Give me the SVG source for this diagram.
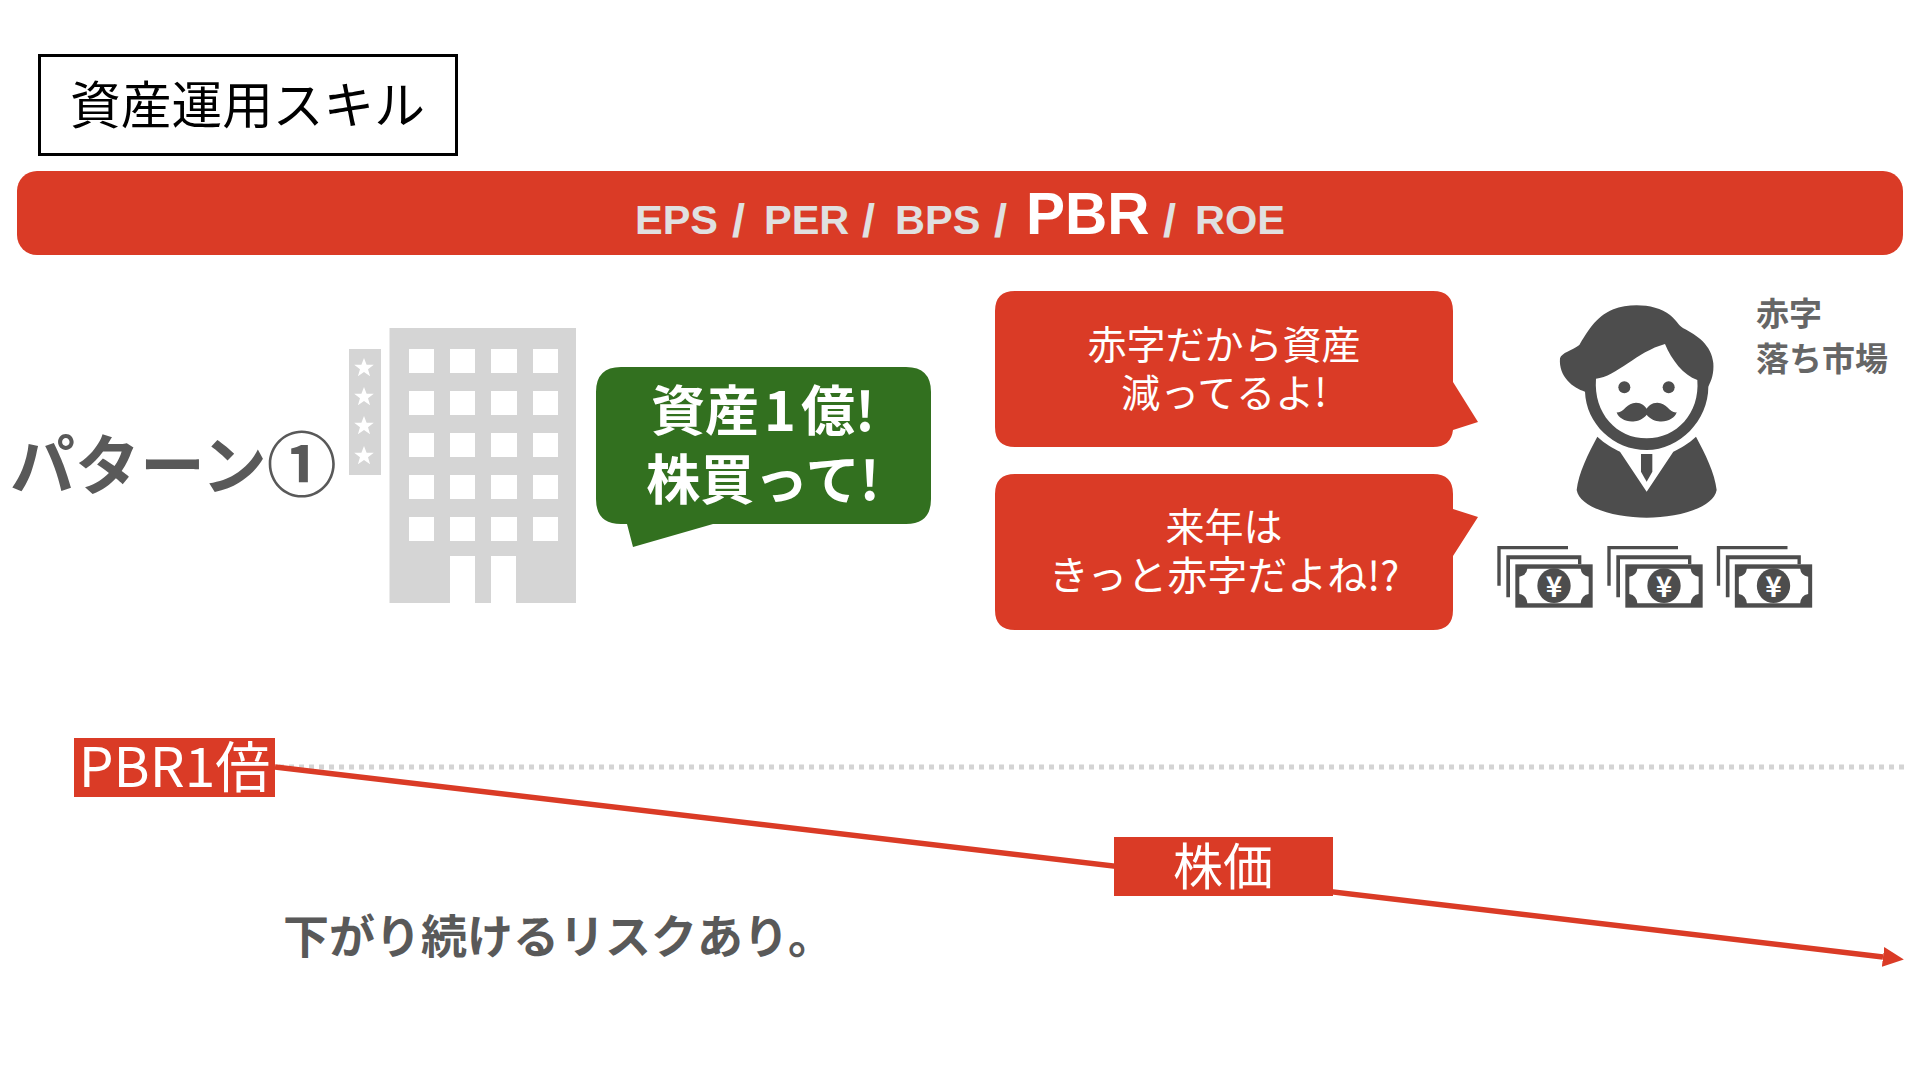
<svg xmlns="http://www.w3.org/2000/svg" xmlns:xlink="http://www.w3.org/1999/xlink" width="1920" height="1080" viewBox="0 0 1920 1080">
<style>
text{font-family:"Noto Sans CJK JP","Liberation Sans",sans-serif}
.c{text-anchor:middle}
.w{fill:#fff}
.b{font-weight:700}
.g{fill:#595959}
.r{fill:#da3b26}
.d{fill:#4d4d4d}
.bar{font-family:"Liberation Sans","Noto Sans CJK JP",sans-serif;font-weight:700}
.s{font-size:47px}
</style>
<defs>
<marker id="ah" markerUnits="userSpaceOnUse" markerWidth="22" markerHeight="22" refX="0" refY="11" orient="auto" viewBox="0 0 22 22"><path d="M0 1L21 11L0 21Z" fill="#da3b26"/></marker>
<polygon id="star" points="0,-10 2.6,-3.2 9.8,-3.2 4,1.2 6.1,8.2 0,4 -6.1,8.2 -4,1.2 -9.8,-3.2 -2.6,-3.2" fill="#fff"/>
<g id="money">
<path class="d" d="M52 798H264V808H62V917H52Z"/>
<path class="d" d="M79 826H304V853H294V838H90V952H79Z"/>
<rect class="d" x="106" y="853" width="232" height="130"/>
<path fill="#fff" d="M142 866H302Q304 886 326 890V942Q304 946 302 970H142Q140 946 118 942V890Q140 886 142 866Z"/>
<ellipse class="d" cx="222" cy="917" rx="50" ry="52"/>
</g>
</defs>
<rect width="1920" height="1080" fill="#fff"/>
<g id="connectors">
<line x1="279" y1="767" x2="1904" y2="767" stroke="#d4d4d4" stroke-width="5" stroke-dasharray="5 5"/>
<line x1="275" y1="767" x2="1883" y2="957" stroke="#da3b26" stroke-width="5.500" marker-end="url(#ah)"/>
</g>
<g id="title">
<rect x="39.500" y="55.500" width="417" height="99" fill="#fff" stroke="#000" stroke-width="3"/>
<text class="c" x="247.500" y="124" font-size="50.700">資産運用スキル</text>
</g>
<g id="bar">
<rect class="r" x="17" y="171" width="1886" height="84" rx="20"/>
<text class="bar" y="234" font-size="41.500" fill="#e0e0e0"><tspan x="635">EPS</tspan><tspan class="s" x="732" y="237">/</tspan><tspan x="764" y="234">PER</tspan><tspan class="s" x="862" y="237">/</tspan><tspan x="895" y="234">BPS</tspan><tspan class="s" x="994" y="237">/</tspan><tspan x="1026" y="234" font-size="58.500" fill="#fff">PBR</tspan><tspan class="s" x="1163" y="237">/</tspan><tspan x="1195" y="234">ROE</tspan></text>
</g>
<g id="pattern"><text class="b g" x="10" y="489" font-size="65">パターン<tspan font-size="70" dy="2">①</tspan></text></g>
<g id="building">
<rect x="389.500" y="328" width="186.500" height="275" fill="#d5d5d5"/>
<path fill="#fff" d="M409 349h25v24h-25zM450 349h25v24h-25zM491 349h26v24h-26zM533 349h25v24h-25zM409 391h25v24h-25zM450 391h25v24h-25zM491 391h26v24h-26zM533 391h25v24h-25zM409 433h25v24h-25zM450 433h25v24h-25zM491 433h26v24h-26zM533 433h25v24h-25zM409 475h25v24h-25zM450 475h25v24h-25zM491 475h26v24h-26zM533 475h25v24h-25zM409 517h25v24h-25zM450 517h25v24h-25zM491 517h26v24h-26zM533 517h25v24h-25zM450 556h25v47h-25zM491 556h25v47h-25z"/>
<rect x="349" y="349" width="32" height="126" fill="#d5d5d5"/>
<use xlink:href="#star" href="#star" x="364" y="368"/>
<use xlink:href="#star" href="#star" x="364" y="397"/>
<use xlink:href="#star" href="#star" x="364" y="426"/>
<use xlink:href="#star" href="#star" x="364" y="456"/>
</g>
<g id="bubble-green">
<path fill="#32701f" d="M621 367H906Q931 367 931 392V499Q931 524 906 524H713L633 547L627 524H621Q596 524 596 499V392Q596 367 621 367Z"/>
<text class="c w b" x="763" y="431" font-size="54">資産<tspan dx="5">1</tspan><tspan dx="5">億!</tspan></text>
<text class="c w b" x="763" y="500" font-size="54">株買って!</text>
</g>
<g id="bubble-red-1">
<path class="r" d="M1015 291H1433Q1453 291 1453 311V382L1478 422L1453 430Q1451 447 1433 447H1015Q995 447 995 427V311Q995 291 1015 291Z"/>
<text class="c w" x="1224" y="359" font-size="39">赤字だから資産</text>
<text class="c w" x="1224" y="407" font-size="39">減ってるよ!</text>
</g>
<g id="bubble-red-2">
<path class="r" d="M1015 474H1433Q1453 474 1453 494V509L1478 517L1453 556V610Q1453 630 1433 630H1015Q995 630 995 610V494Q995 474 1015 474Z"/>
<text class="c w" x="1224" y="541" font-size="39">来年は</text>
<text class="c w" x="1224" y="590" font-size="40">きっと赤字だよね!?</text>
</g>
<g id="person" transform="translate(1480 280) scale(.33333)">
<path class="d" fill-rule="evenodd" d="M240 235C245 218 275 212 298 195C320 160 345 110 400 88C450 68 530 72 570 105C590 122 595 135 610 145C650 165 695 195 700 250C702 280 695 300 685 320C685 420 600 510 500 510C400 510 318 430 315 335C280 325 235 290 240 235ZM348 296C410 290 470 215 555 192C575 240 610 285 652 300C660 400 590 475 500 475C410 475 340 400 348 296Z"/>
<circle class="d" cx="433" cy="322" r="18"/><circle class="d" cx="566" cy="322" r="18"/>
<path class="d" d="M410 397C430 400 440 368 468 368C485 368 495 378 500 386C505 378 515 368 532 368C560 368 570 400 590 397C585 415 560 428 535 424C520 422 505 412 500 404C495 412 480 422 465 424C440 428 415 415 410 397Z"/>
<path class="d" d="M352 470C375 492 400 505 420 515L500 635L580 515C600 505 625 492 648 470C675 520 705 580 710 630C700 685 590 713 500 713C410 713 300 685 290 630C295 580 325 520 352 470Z"/>
<path fill="#fff" d="M430 512L500 620L570 512C540 522 460 522 430 512Z"/>
<path class="d" d="M483 522H517V575L500 605L483 575Z"/>
</g>
<g id="market-label" font-size="33" font-weight="700" fill="#666">
<text x="1756" y="326">赤字</text>
<text x="1756" y="371">落ち市場</text>
</g>
<g id="money-1">
<use href="#money" xlink:href="#money" transform="translate(1480 280) scale(.33333)"/>
<text class="c w b" x="1554" y="597" font-size="28">¥</text>
</g>
<g id="money-2">
<use href="#money" xlink:href="#money" transform="translate(1590 280) scale(.33333)"/>
<text class="c w b" x="1664" y="597" font-size="28">¥</text>
</g>
<g id="money-3">
<use href="#money" xlink:href="#money" transform="translate(1699.500 280) scale(.33333)"/>
<text class="c w b" x="1773.500" y="597" font-size="28">¥</text>
</g>
<g id="pbr-label">
<rect class="r" x="74" y="738" width="201" height="59"/>
<text class="c w" x="174.500" y="787" font-size="55">PBR1倍</text>
</g>
<g id="price-label">
<rect class="r" x="1114" y="837" width="219" height="59"/>
<text class="c w" x="1223" y="885" font-size="50">株価</text>
</g>
<g id="note"><text class="b g" x="283" y="953" font-size="46">下がり続けるリスクあり。</text></g>
</svg>
